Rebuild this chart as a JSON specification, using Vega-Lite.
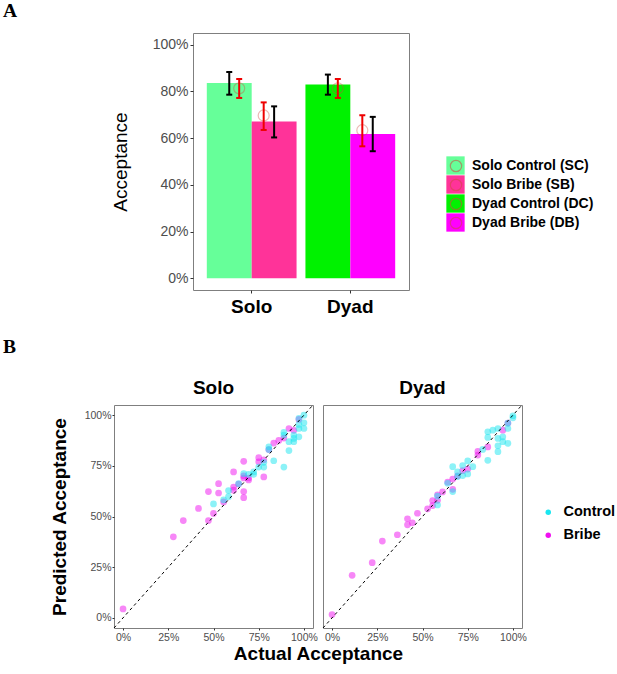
{
  "$schema": "https://vega.github.io/schema/vega-lite/v6.json",
  "background": "white",
  "padding": {"left": 2, "top": 0, "right": 0, "bottom": 0},
  "spacing": 20,
  "resolve": {
    "scale": {"x": "independent", "y": "independent", "color": "independent", "stroke": "independent"},
    "axis": {"x": "independent", "y": "independent"},
    "legend": {"color": "independent", "stroke": "independent"}
  },
  "datasets": {
    "bars": [
      {"group": "Solo", "cond": "Control", "label": "Solo Control (SC)", "acc": 0.836, "lo": 0.786, "hi": 0.883, "pred": 0.813, "plo": 0.772, "phi": 0.853},
      {"group": "Solo", "cond": "Bribe", "label": "Solo Bribe (SB)", "acc": 0.671, "lo": 0.603, "hi": 0.736, "pred": 0.697, "plo": 0.635, "phi": 0.753},
      {"group": "Dyad", "cond": "Control", "label": "Dyad Control (DC)", "acc": 0.830, "lo": 0.786, "hi": 0.872, "pred": 0.813, "plo": 0.772, "phi": 0.853},
      {"group": "Dyad", "cond": "Bribe", "label": "Dyad Bribe (DB)", "acc": 0.618, "lo": 0.544, "hi": 0.691, "pred": 0.634, "plo": 0.565, "phi": 0.698}
    ],
    "diag": [{"v": -0.05}, {"v": 1.05}],
    "scatter": [
      {"panel": "Solo", "cond": "Bribe", "actual": 0.000, "predicted": 0.044},
      {"panel": "Solo", "cond": "Bribe", "actual": 0.278, "predicted": 0.400},
      {"panel": "Solo", "cond": "Bribe", "actual": 0.333, "predicted": 0.480},
      {"panel": "Solo", "cond": "Bribe", "actual": 0.417, "predicted": 0.540},
      {"panel": "Solo", "cond": "Bribe", "actual": 0.472, "predicted": 0.480},
      {"panel": "Solo", "cond": "Bribe", "actual": 0.500, "predicted": 0.515},
      {"panel": "Solo", "cond": "Bribe", "actual": 0.472, "predicted": 0.623},
      {"panel": "Solo", "cond": "Bribe", "actual": 0.528, "predicted": 0.662},
      {"panel": "Solo", "cond": "Bribe", "actual": 0.528, "predicted": 0.616},
      {"panel": "Solo", "cond": "Bribe", "actual": 0.556, "predicted": 0.572},
      {"panel": "Solo", "cond": "Bribe", "actual": 0.611, "predicted": 0.720},
      {"panel": "Solo", "cond": "Bribe", "actual": 0.611, "predicted": 0.630},
      {"panel": "Solo", "cond": "Bribe", "actual": 0.611, "predicted": 0.645},
      {"panel": "Solo", "cond": "Bribe", "actual": 0.667, "predicted": 0.593},
      {"panel": "Solo", "cond": "Bribe", "actual": 0.667, "predicted": 0.623},
      {"panel": "Solo", "cond": "Bribe", "actual": 0.667, "predicted": 0.772},
      {"panel": "Solo", "cond": "Bribe", "actual": 0.667, "predicted": 0.690},
      {"panel": "Solo", "cond": "Bribe", "actual": 0.694, "predicted": 0.680},
      {"panel": "Solo", "cond": "Bribe", "actual": 0.694, "predicted": 0.690},
      {"panel": "Solo", "cond": "Bribe", "actual": 0.750, "predicted": 0.790},
      {"panel": "Solo", "cond": "Bribe", "actual": 0.750, "predicted": 0.770},
      {"panel": "Solo", "cond": "Bribe", "actual": 0.778, "predicted": 0.780},
      {"panel": "Solo", "cond": "Bribe", "actual": 0.778, "predicted": 0.695},
      {"panel": "Solo", "cond": "Bribe", "actual": 0.806, "predicted": 0.830},
      {"panel": "Solo", "cond": "Bribe", "actual": 0.833, "predicted": 0.862},
      {"panel": "Solo", "cond": "Bribe", "actual": 0.861, "predicted": 0.875},
      {"panel": "Solo", "cond": "Bribe", "actual": 0.889, "predicted": 0.887},
      {"panel": "Solo", "cond": "Bribe", "actual": 0.917, "predicted": 0.934},
      {"panel": "Solo", "cond": "Bribe", "actual": 0.944, "predicted": 0.925},
      {"panel": "Solo", "cond": "Bribe", "actual": 0.972, "predicted": 0.979},
      {"panel": "Solo", "cond": "Bribe", "actual": 0.639, "predicted": 0.660},
      {"panel": "Solo", "cond": "Bribe", "actual": 0.667, "predicted": 0.700},
      {"panel": "Solo", "cond": "Control", "actual": 0.500, "predicted": 0.562},
      {"panel": "Solo", "cond": "Control", "actual": 0.556, "predicted": 0.582},
      {"panel": "Solo", "cond": "Control", "actual": 0.583, "predicted": 0.628},
      {"panel": "Solo", "cond": "Control", "actual": 0.583, "predicted": 0.598},
      {"panel": "Solo", "cond": "Control", "actual": 0.639, "predicted": 0.662},
      {"panel": "Solo", "cond": "Control", "actual": 0.667, "predicted": 0.711},
      {"panel": "Solo", "cond": "Control", "actual": 0.694, "predicted": 0.708},
      {"panel": "Solo", "cond": "Control", "actual": 0.722, "predicted": 0.708},
      {"panel": "Solo", "cond": "Control", "actual": 0.722, "predicted": 0.720},
      {"panel": "Solo", "cond": "Control", "actual": 0.750, "predicted": 0.744},
      {"panel": "Solo", "cond": "Control", "actual": 0.778, "predicted": 0.744},
      {"panel": "Solo", "cond": "Control", "actual": 0.778, "predicted": 0.767},
      {"panel": "Solo", "cond": "Control", "actual": 0.806, "predicted": 0.844},
      {"panel": "Solo", "cond": "Control", "actual": 0.806, "predicted": 0.830},
      {"panel": "Solo", "cond": "Control", "actual": 0.833, "predicted": 0.775},
      {"panel": "Solo", "cond": "Control", "actual": 0.889, "predicted": 0.744},
      {"panel": "Solo", "cond": "Control", "actual": 0.889, "predicted": 0.902},
      {"panel": "Solo", "cond": "Control", "actual": 0.889, "predicted": 0.915},
      {"panel": "Solo", "cond": "Control", "actual": 0.917, "predicted": 0.825},
      {"panel": "Solo", "cond": "Control", "actual": 0.917, "predicted": 0.869},
      {"panel": "Solo", "cond": "Control", "actual": 0.944, "predicted": 0.869},
      {"panel": "Solo", "cond": "Control", "actual": 0.944, "predicted": 0.885},
      {"panel": "Solo", "cond": "Control", "actual": 0.944, "predicted": 0.902},
      {"panel": "Solo", "cond": "Control", "actual": 0.972, "predicted": 0.893},
      {"panel": "Solo", "cond": "Control", "actual": 0.972, "predicted": 0.934},
      {"panel": "Solo", "cond": "Control", "actual": 0.972, "predicted": 0.954},
      {"panel": "Solo", "cond": "Control", "actual": 0.972, "predicted": 0.984},
      {"panel": "Solo", "cond": "Control", "actual": 1.000, "predicted": 0.934},
      {"panel": "Solo", "cond": "Control", "actual": 1.000, "predicted": 0.962},
      {"panel": "Solo", "cond": "Control", "actual": 1.000, "predicted": 1.000},
      {"panel": "Dyad", "cond": "Bribe", "actual": 0.000, "predicted": 0.016},
      {"panel": "Dyad", "cond": "Bribe", "actual": 0.111, "predicted": 0.210},
      {"panel": "Dyad", "cond": "Bribe", "actual": 0.222, "predicted": 0.272},
      {"panel": "Dyad", "cond": "Bribe", "actual": 0.278, "predicted": 0.379},
      {"panel": "Dyad", "cond": "Bribe", "actual": 0.361, "predicted": 0.410},
      {"panel": "Dyad", "cond": "Bribe", "actual": 0.417, "predicted": 0.489},
      {"panel": "Dyad", "cond": "Bribe", "actual": 0.417, "predicted": 0.459},
      {"panel": "Dyad", "cond": "Bribe", "actual": 0.444, "predicted": 0.469},
      {"panel": "Dyad", "cond": "Bribe", "actual": 0.472, "predicted": 0.516},
      {"panel": "Dyad", "cond": "Bribe", "actual": 0.528, "predicted": 0.538},
      {"panel": "Dyad", "cond": "Bribe", "actual": 0.556, "predicted": 0.579},
      {"panel": "Dyad", "cond": "Bribe", "actual": 0.556, "predicted": 0.554},
      {"panel": "Dyad", "cond": "Bribe", "actual": 0.583, "predicted": 0.607},
      {"panel": "Dyad", "cond": "Bribe", "actual": 0.583, "predicted": 0.580},
      {"panel": "Dyad", "cond": "Bribe", "actual": 0.611, "predicted": 0.621},
      {"panel": "Dyad", "cond": "Bribe", "actual": 0.639, "predicted": 0.670},
      {"panel": "Dyad", "cond": "Bribe", "actual": 0.667, "predicted": 0.685},
      {"panel": "Dyad", "cond": "Bribe", "actual": 0.667, "predicted": 0.634},
      {"panel": "Dyad", "cond": "Bribe", "actual": 0.694, "predicted": 0.700},
      {"panel": "Dyad", "cond": "Bribe", "actual": 0.722, "predicted": 0.726},
      {"panel": "Dyad", "cond": "Bribe", "actual": 0.750, "predicted": 0.734},
      {"panel": "Dyad", "cond": "Bribe", "actual": 0.806, "predicted": 0.821},
      {"panel": "Dyad", "cond": "Bribe", "actual": 0.806, "predicted": 0.803},
      {"panel": "Dyad", "cond": "Bribe", "actual": 0.861, "predicted": 0.843},
      {"panel": "Dyad", "cond": "Bribe", "actual": 0.944, "predicted": 0.926},
      {"panel": "Dyad", "cond": "Bribe", "actual": 0.972, "predicted": 0.961},
      {"panel": "Dyad", "cond": "Control", "actual": 0.583, "predicted": 0.557},
      {"panel": "Dyad", "cond": "Control", "actual": 0.583, "predicted": 0.600},
      {"panel": "Dyad", "cond": "Control", "actual": 0.639, "predicted": 0.664},
      {"panel": "Dyad", "cond": "Control", "actual": 0.667, "predicted": 0.746},
      {"panel": "Dyad", "cond": "Control", "actual": 0.667, "predicted": 0.623},
      {"panel": "Dyad", "cond": "Control", "actual": 0.694, "predicted": 0.697},
      {"panel": "Dyad", "cond": "Control", "actual": 0.694, "predicted": 0.720},
      {"panel": "Dyad", "cond": "Control", "actual": 0.722, "predicted": 0.702},
      {"panel": "Dyad", "cond": "Control", "actual": 0.722, "predicted": 0.751},
      {"panel": "Dyad", "cond": "Control", "actual": 0.750, "predicted": 0.774},
      {"panel": "Dyad", "cond": "Control", "actual": 0.750, "predicted": 0.710},
      {"panel": "Dyad", "cond": "Control", "actual": 0.778, "predicted": 0.746},
      {"panel": "Dyad", "cond": "Control", "actual": 0.833, "predicted": 0.831},
      {"panel": "Dyad", "cond": "Control", "actual": 0.861, "predicted": 0.918},
      {"panel": "Dyad", "cond": "Control", "actual": 0.861, "predicted": 0.890},
      {"panel": "Dyad", "cond": "Control", "actual": 0.861, "predicted": 0.777},
      {"panel": "Dyad", "cond": "Control", "actual": 0.889, "predicted": 0.926},
      {"panel": "Dyad", "cond": "Control", "actual": 0.917, "predicted": 0.934},
      {"panel": "Dyad", "cond": "Control", "actual": 0.917, "predicted": 0.885},
      {"panel": "Dyad", "cond": "Control", "actual": 0.917, "predicted": 0.849},
      {"panel": "Dyad", "cond": "Control", "actual": 0.917, "predicted": 0.820},
      {"panel": "Dyad", "cond": "Control", "actual": 0.944, "predicted": 0.893},
      {"panel": "Dyad", "cond": "Control", "actual": 0.944, "predicted": 0.869},
      {"panel": "Dyad", "cond": "Control", "actual": 0.972, "predicted": 0.861},
      {"panel": "Dyad", "cond": "Control", "actual": 0.972, "predicted": 0.934},
      {"panel": "Dyad", "cond": "Control", "actual": 0.972, "predicted": 0.961},
      {"panel": "Dyad", "cond": "Control", "actual": 1.000, "predicted": 0.997},
      {"panel": "Dyad", "cond": "Control", "actual": 1.000, "predicted": 0.987}
    ]
  },
  "config": {
    "font": "Liberation Sans",
    "view": {"stroke": "#7f7f7f", "strokeWidth": 1},
    "axis": {
      "domain": false,
      "grid": false,
      "ticks": true,
      "tickColor": "#333333",
      "tickSize": 3,
      "labelColor": "#4d4d4d",
      "titleColor": "black"
    },
    "legend": {"padding": 0, "titlePadding": 0}
  },
  "vconcat": [
    {
      "spacing": 0,
      "bounds": "flush",
      "resolve": {
        "scale": {"x": "independent", "y": "independent", "xOffset": "independent", "color": "independent", "stroke": "independent"},
        "axis": {"x": "independent", "y": "independent"},
        "legend": {"color": "independent", "stroke": "independent"}
      },
      "hconcat": [
        {
          "width": 79,
          "height": 257,
          "view": {"stroke": null},
          "data": {"name": "bars"},
          "mark": {"type": "point", "opacity": 0},
          "encoding": {}
        },
        {
          "title": {"text": "A", "anchor": "start", "frame": "group", "font": "Liberation Serif", "fontSize": 19.5, "fontWeight": "bold", "color": "black", "dx": -190, "offset": 12},
          "width": 216,
          "height": 257,
          "data": {"name": "bars"},
          "encoding": {
            "x": {
              "field": "group",
              "type": "nominal",
              "sort": ["Solo", "Dyad"],
              "scale": {"paddingInner": 0.09, "paddingOuter": 0.14},
              "axis": {"title": null, "labelAngle": 0, "labelFontSize": 19, "labelFontWeight": "bold", "labelColor": "black", "labelPadding": 4}
            }
          },
          "layer": [
            {
              "mark": {"type": "bar"},
              "encoding": {
                "xOffset": {"field": "cond", "type": "nominal", "sort": ["Control", "Bribe"]},
                "y": {
                  "field": "acc",
                  "type": "quantitative",
                  "title": "Acceptance",
                  "scale": {"domain": [-0.05, 1.05], "nice": false, "zero": false},
                  "axis": {"values": [0, 0.2, 0.4, 0.6, 0.8, 1], "format": ".0%", "labelFontSize": 14, "labelPadding": 2, "titleFontSize": 19, "titleFontWeight": "normal", "titlePadding": 22}
                },
                "color": {
                  "field": "label",
                  "type": "nominal",
                  "scale": {
                    "domain": ["Solo Control (SC)", "Solo Bribe (SB)", "Dyad Control (DC)", "Dyad Bribe (DB)"],
                    "range": ["#66ff99", "#ff3399", "#00f200", "#ff00ff"]
                  },
                  "legend": {
                    "orient": "none", "legendX": 253, "legendY": 123, "title": null,
                    "symbolType": "square", "symbolSize": 335, "symbolOpacity": 1, "symbolStrokeWidth": 0,
                    "labelFontSize": 14, "labelFontWeight": "bold", "labelColor": "black", "labelOffset": 7, "rowPadding": -1
                  }
                }
              }
            },
            {
              "mark": {"type": "rule", "color": "black", "strokeWidth": 2},
              "encoding": {
                "xOffset": {"field": "cond", "type": "nominal", "sort": ["Control", "Bribe"]},
                "y": {"field": "lo", "type": "quantitative", "title": "Acceptance", "scale": {"domain": [-0.05, 1.05], "nice": false, "zero": false}},
                "y2": {"field": "hi"}
              }
            },
            {
              "mark": {"type": "tick", "color": "black", "thickness": 2, "size": 6, "opacity": 1},
              "encoding": {
                "xOffset": {"field": "cond", "type": "nominal", "sort": ["Control", "Bribe"]},
                "y": {"field": "lo", "type": "quantitative", "title": "Acceptance", "scale": {"domain": [-0.05, 1.05], "nice": false, "zero": false}}
              }
            },
            {
              "mark": {"type": "tick", "color": "black", "thickness": 2, "size": 6, "opacity": 1},
              "encoding": {
                "xOffset": {"field": "cond", "type": "nominal", "sort": ["Control", "Bribe"]},
                "y": {"field": "hi", "type": "quantitative", "title": "Acceptance", "scale": {"domain": [-0.05, 1.05], "nice": false, "zero": false}}
              }
            },
            {
              "transform": [{"filter": "datum.cond === 'Control'"}],
              "mark": {"type": "point", "shape": "circle", "filled": false, "size": 121, "strokeWidth": 1.2, "strokeOpacity": 0.55, "xOffset": -12.5},
              "encoding": {
                "y": {"field": "pred", "type": "quantitative", "title": "Acceptance", "scale": {"domain": [-0.05, 1.05], "nice": false, "zero": false}},
                "stroke": {
                  "field": "label",
                  "type": "nominal",
                  "sort": ["Solo Control (SC)", "Solo Bribe (SB)", "Dyad Control (DC)", "Dyad Bribe (DB)"],
                  "scale": {"range": ["#d04a40", "#d04a40", "#d04a40", "#d04a40"]},
                  "legend": {
                    "orient": "none", "legendX": 253, "legendY": 123, "title": null,
                    "symbolType": "M -0.62 0 A 0.62 0.62 0 1 0 0.62 0 A 0.62 0.62 0 1 0 -0.62 0 Z",
                    "symbolSize": 335, "symbolOpacity": 0.55, "symbolStrokeWidth": 1.2, "symbolFillColor": "transparent",
                    "labelFontSize": 14, "labelFontWeight": "bold", "labelOpacity": 0, "labelOffset": 7, "rowPadding": -1
                  }
                }
              }
            },
            {
              "transform": [{"filter": "datum.cond === 'Bribe'"}],
              "mark": {"type": "point", "shape": "circle", "filled": false, "size": 121, "strokeWidth": 1.2, "strokeOpacity": 0.55, "xOffset": 12},
              "encoding": {
                "y": {"field": "pred", "type": "quantitative", "title": "Acceptance", "scale": {"domain": [-0.05, 1.05], "nice": false, "zero": false}},
                "stroke": {"field": "label", "type": "nominal", "sort": ["Solo Control (SC)", "Solo Bribe (SB)", "Dyad Control (DC)", "Dyad Bribe (DB)"]}
              }
            },
            {
              "transform": [{"filter": "datum.cond === 'Control'"}],
              "mark": {"type": "rule", "color": "#ee0000", "strokeWidth": 2, "xOffset": -12.5},
              "encoding": {
                "y": {"field": "plo", "type": "quantitative", "title": "Acceptance", "scale": {"domain": [-0.05, 1.05], "nice": false, "zero": false}},
                "y2": {"field": "phi"}
              }
            },
            {
              "transform": [{"filter": "datum.cond === 'Control'"}],
              "mark": {"type": "tick", "color": "#ee0000", "thickness": 2, "size": 6, "opacity": 1, "xOffset": -12.5},
              "encoding": {
                "y": {"field": "plo", "type": "quantitative", "title": "Acceptance", "scale": {"domain": [-0.05, 1.05], "nice": false, "zero": false}}
              }
            },
            {
              "transform": [{"filter": "datum.cond === 'Control'"}],
              "mark": {"type": "tick", "color": "#ee0000", "thickness": 2, "size": 6, "opacity": 1, "xOffset": -12.5},
              "encoding": {
                "y": {"field": "phi", "type": "quantitative", "title": "Acceptance", "scale": {"domain": [-0.05, 1.05], "nice": false, "zero": false}}
              }
            },
            {
              "transform": [{"filter": "datum.cond === 'Bribe'"}],
              "mark": {"type": "rule", "color": "#ee0000", "strokeWidth": 2, "xOffset": 12},
              "encoding": {
                "y": {"field": "plo", "type": "quantitative", "title": "Acceptance", "scale": {"domain": [-0.05, 1.05], "nice": false, "zero": false}},
                "y2": {"field": "phi"}
              }
            },
            {
              "transform": [{"filter": "datum.cond === 'Bribe'"}],
              "mark": {"type": "tick", "color": "#ee0000", "thickness": 2, "size": 6, "opacity": 1, "xOffset": 12},
              "encoding": {
                "y": {"field": "plo", "type": "quantitative", "title": "Acceptance", "scale": {"domain": [-0.05, 1.05], "nice": false, "zero": false}}
              }
            },
            {
              "transform": [{"filter": "datum.cond === 'Bribe'"}],
              "mark": {"type": "tick", "color": "#ee0000", "thickness": 2, "size": 6, "opacity": 1, "xOffset": 12},
              "encoding": {
                "y": {"field": "phi", "type": "quantitative", "title": "Acceptance", "scale": {"domain": [-0.05, 1.05], "nice": false, "zero": false}}
              }
            }
          ]
        }
      ]
    },
    {
      "title": {"text": "B", "anchor": "start", "frame": "group", "font": "Liberation Serif", "fontSize": 19.5, "fontWeight": "bold", "color": "black", "dx": -111, "offset": 21},
      "spacing": 10,
      "bounds": "flush",
      "resolve": {"legend": {"color": "independent"}},
      "hconcat": [
        {
          "title": {"text": "Solo", "fontSize": 19, "fontWeight": "bold", "color": "black", "offset": 5},
          "width": 199,
          "height": 223,
          "layer": [
            {
              "data": {"name": "scatter"},
              "transform": [{"filter": "datum.panel === 'Solo'"}],
              "mark": {"type": "circle", "size": 45, "opacity": 0.5},
              "encoding": {
                "x": {
                  "field": "actual", "type": "quantitative", "title": "Actual Acceptance",
                  "scale": {"domain": [-0.05, 1.05], "nice": false, "zero": false},
                  "axis": {"values": [0, 0.25, 0.5, 0.75, 1], "format": ".0%", "labelFontSize": 10.5, "labelPadding": 2, "tickSize": 2, "titleFontSize": 19, "titleFontWeight": "bold", "titlePadding": 2, "titleX": 204}
                },
                "y": {
                  "field": "predicted", "type": "quantitative", "title": "Predicted Acceptance",
                  "scale": {"domain": [-0.05, 1.05], "nice": false, "zero": false},
                  "axis": {"values": [0, 0.25, 0.5, 0.75, 1], "format": ".0%", "labelFontSize": 10.5, "labelPadding": 1, "tickSize": 2, "titleFontSize": 19, "titleFontWeight": "bold", "titlePadding": 15}
                },
                "color": {
                  "field": "cond", "type": "nominal",
                  "scale": {"domain": ["Control", "Bribe"], "range": ["#19e6f0", "#f010f0"]},
                  "legend": null
                }
              }
            },
            {
              "data": {"name": "diag"},
              "mark": {"type": "line", "color": "black", "strokeWidth": 1, "strokeDash": [3, 3]},
              "encoding": {
                "x": {
                  "field": "v", "type": "quantitative", "title": "Actual Acceptance",
                  "scale": {"domain": [-0.05, 1.05], "nice": false, "zero": false},
                  "axis": {"values": [0, 0.25, 0.5, 0.75, 1], "format": ".0%", "labelFontSize": 10.5, "labelPadding": 2, "tickSize": 2, "titleFontSize": 19, "titleFontWeight": "bold", "titlePadding": 2, "titleX": 204}
                },
                "y": {
                  "field": "v", "type": "quantitative", "title": "Predicted Acceptance",
                  "scale": {"domain": [-0.05, 1.05], "nice": false, "zero": false},
                  "axis": {"values": [0, 0.25, 0.5, 0.75, 1], "format": ".0%", "labelFontSize": 10.5, "labelPadding": 1, "tickSize": 2, "titleFontSize": 19, "titleFontWeight": "bold", "titlePadding": 15}
                }
              }
            }
          ]
        },
        {
          "title": {"text": "Dyad", "fontSize": 19, "fontWeight": "bold", "color": "black", "offset": 5},
          "width": 199,
          "height": 223,
          "layer": [
            {
              "data": {"name": "scatter"},
              "transform": [{"filter": "datum.panel === 'Dyad'"}],
              "mark": {"type": "circle", "size": 45, "opacity": 0.5},
              "encoding": {
                "x": {
                  "field": "actual", "type": "quantitative", "title": null,
                  "scale": {"domain": [-0.05, 1.05], "nice": false, "zero": false},
                  "axis": {"values": [0, 0.25, 0.5, 0.75, 1], "format": ".0%", "labelFontSize": 10.5, "labelPadding": 2, "tickSize": 2}
                },
                "y": {
                  "field": "predicted", "type": "quantitative",
                  "scale": {"domain": [-0.05, 1.05], "nice": false, "zero": false},
                  "axis": null
                },
                "color": {
                  "field": "cond", "type": "nominal",
                  "scale": {"domain": ["Control", "Bribe"], "range": ["#19e6f0", "#f010f0"]},
                  "legend": {
                    "orient": "none", "legendX": 218, "legendY": 100, "title": null,
                    "symbolType": "circle", "symbolSize": 30, "symbolOpacity": 1, "symbolStrokeWidth": 0,
                    "labelFontSize": 14.5, "labelFontWeight": "bold", "labelColor": "black", "labelOffset": 8, "rowPadding": 8
                  }
                }
              }
            },
            {
              "data": {"name": "diag"},
              "mark": {"type": "line", "color": "black", "strokeWidth": 1, "strokeDash": [3, 3]},
              "encoding": {
                "x": {
                  "field": "v", "type": "quantitative", "title": null,
                  "scale": {"domain": [-0.05, 1.05], "nice": false, "zero": false},
                  "axis": {"values": [0, 0.25, 0.5, 0.75, 1], "format": ".0%", "labelFontSize": 10.5, "labelPadding": 2, "tickSize": 2}
                },
                "y": {
                  "field": "v", "type": "quantitative",
                  "scale": {"domain": [-0.05, 1.05], "nice": false, "zero": false},
                  "axis": null
                }
              }
            }
          ]
        }
      ]
    }
  ]
}
